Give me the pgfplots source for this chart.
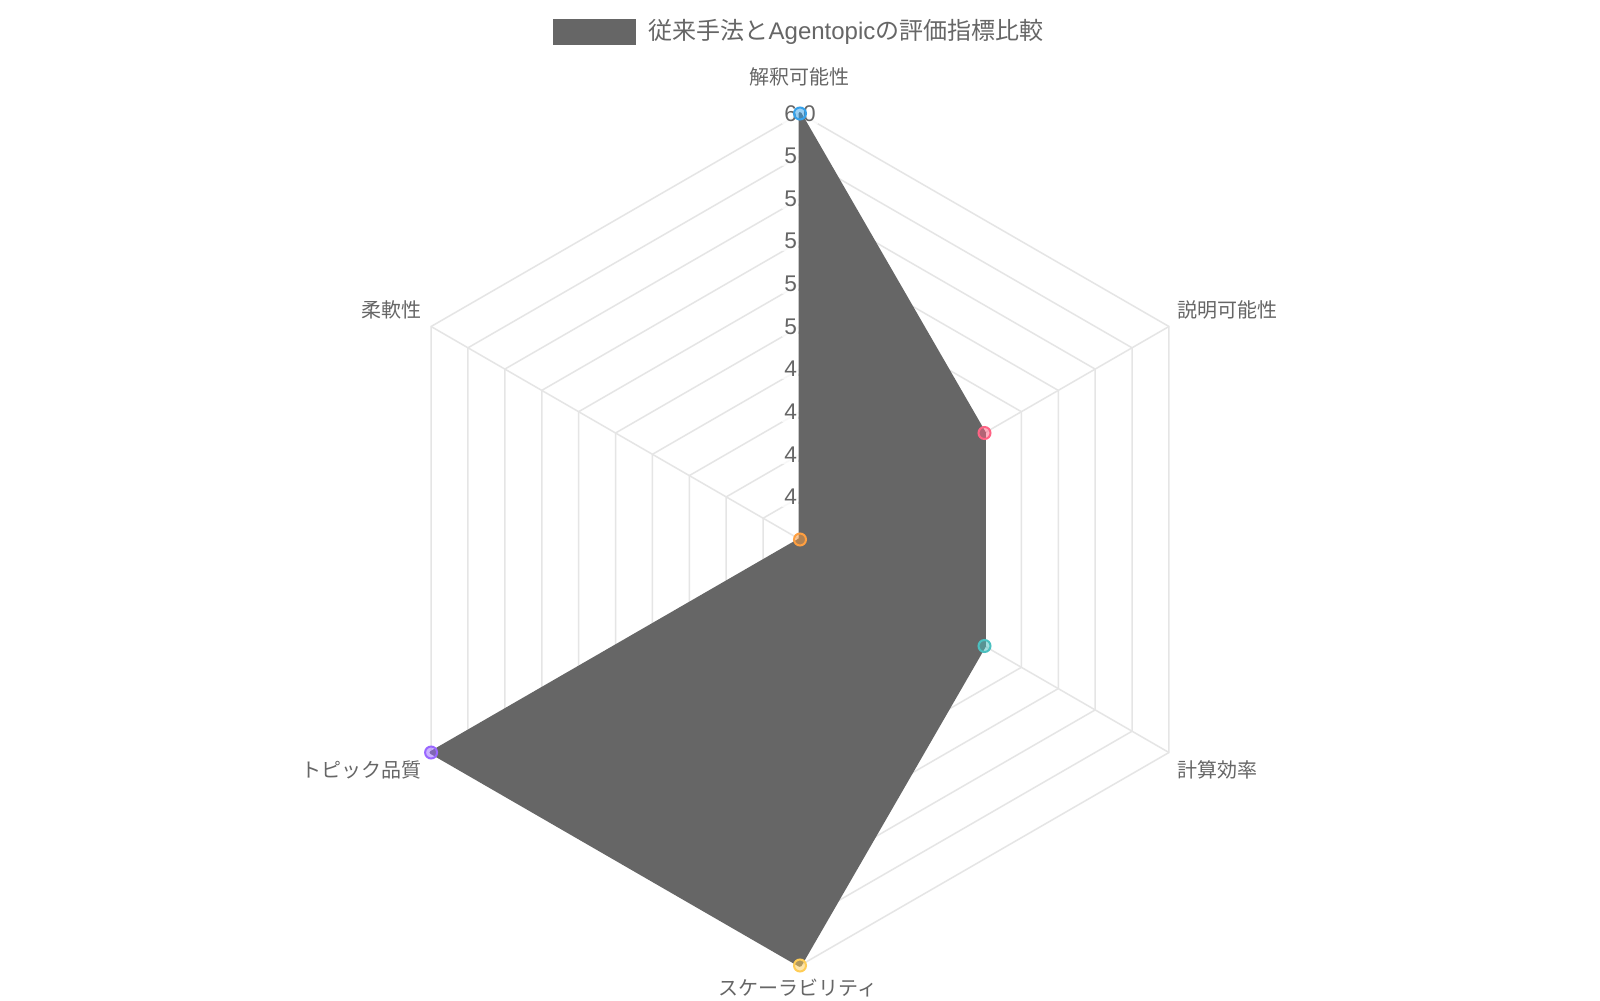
\documentclass[border=0pt]{standalone}
\usepackage{pgfplots}
\pgfplotsset{compat=1.18}
\usepackage{pgfplotstable}
\usepackage{fontspec}
\setmainfont{Liberation Sans}
\newfontfamily\jp{Noto Sans CJK JP}
\definecolor{txt}{HTML}{666666}
\definecolor{fillgray}{HTML}{666666}
\definecolor{gridc}{HTML}{E5E5E5}
\definecolor{cblue}{RGB}{54,162,235}
\definecolor{cpink}{RGB}{255,99,132}
\definecolor{cteal}{RGB}{75,192,192}
\definecolor{cyellow}{RGB}{255,205,86}
\definecolor{cpurple}{RGB}{153,102,255}
\definecolor{corange}{RGB}{255,159,64}
\tikzset{
  lab/.style={font=\fontsize{6}{7}\selectfont, text=txt, inner sep=0pt},
  leglab/.style={font=\fontsize{7.2}{8}\selectfont, text=txt, inner sep=0pt},
  ticklab/.style={font=\fontsize{6.8}{8}\selectfont, text=txt, fill=white, fill opacity=0.75, text opacity=1, inner sep=0.6pt},
}

\pgfplotstableread{
angle value cls
90 6.0 a
30 5.0 b
-30 5.0 c
-90 6.0 d
-150 6.0 e
150 4.0 f
}\radardata

\begin{document}
\begin{tikzpicture}
\begin{axis}[
  width=480pt, height=300pt, scale only axis, hide axis,
  xmin=-3.7559, xmax=3.7559, ymin=-2.1620, ymax=2.5329,
  clip=false,
]
\path[fill=white] (rel axis cs:0,0) rectangle (rel axis cs:1,1);
% grid rings
\pgfplotsinvokeforeach{0.2,0.4,0.6,0.8,1.0,1.2,1.4,1.6,1.8,2.0}{
  \draw[gridc, line width=0.45pt] (axis cs:0,#1) -- (axis cs:{0.866025*#1},{0.5*#1}) -- (axis cs:{0.866025*#1},{-0.5*#1}) -- (axis cs:0,{-#1}) -- (axis cs:{-0.866025*#1},{-0.5*#1}) -- (axis cs:{-0.866025*#1},{0.5*#1}) -- cycle;
}
% spokes
\draw[gridc, line width=0.45pt] (axis cs:0,0) -- (axis cs:0,2);
\draw[gridc, line width=0.45pt] (axis cs:0,0) -- (axis cs:1.73205,1);
\draw[gridc, line width=0.45pt] (axis cs:0,0) -- (axis cs:1.73205,-1);
\draw[gridc, line width=0.45pt] (axis cs:0,0) -- (axis cs:0,-2);
\draw[gridc, line width=0.45pt] (axis cs:0,0) -- (axis cs:-1.73205,-1);
\draw[gridc, line width=0.45pt] (axis cs:0,0) -- (axis cs:-1.73205,1);
% tick labels
\node[ticklab] at (axis cs:0,2.0) {6.0};
\node[ticklab] at (axis cs:0,1.8) {5.8};
\node[ticklab] at (axis cs:0,1.6) {5.6};
\node[ticklab] at (axis cs:0,1.4) {5.4};
\node[ticklab] at (axis cs:0,1.2) {5.2};
\node[ticklab] at (axis cs:0,1.0) {5.0};
\node[ticklab] at (axis cs:0,0.8) {4.8};
\node[ticklab] at (axis cs:0,0.6) {4.6};
\node[ticklab] at (axis cs:0,0.4) {4.4};
\node[ticklab] at (axis cs:0,0.2) {4.2};
% data area
\addplot[fill=fillgray, draw=fillgray, line width=0.9pt, line join=round, data cs=polar] table[x=angle, y expr=\thisrow{value}-4] {\radardata} -- cycle;
% points
\addplot[scatter, only marks, data cs=polar, scatter src=explicit symbolic, mark size=1.8pt, line width=0.6pt,
  scatter/classes={
    a={mark=*, draw=cblue, fill=cblue, fill opacity=0.5},
    b={mark=*, draw=cpink, fill=cpink, fill opacity=0.5},
    c={mark=*, draw=cteal, fill=cteal, fill opacity=0.5},
    d={mark=*, draw=cyellow, fill=cyellow, fill opacity=0.5},
    e={mark=*, draw=cpurple, fill=cpurple, fill opacity=0.5},
    f={mark=*, draw=corange, fill=corange, fill opacity=0.5}}]
  table[x=angle, y expr=\thisrow{value}-4, meta=cls] {\radardata};
% point labels
\node[lab] at (axis cs:-0.0047,2.1728) {\jp 解釈可能性};
\node[lab, anchor=west] at (axis cs:1.77,1.0775) {\jp 説明可能性};
\node[lab, anchor=west] at (axis cs:1.77,-1.0822) {\jp 計算効率};
\node[lab] at (axis cs:-0.0094,-2.1056) {\jp スケーラビリティ};
\node[lab, anchor=east] at (axis cs:-1.7746,-1.0822) {\jp トピック品質};
\node[lab, anchor=east] at (axis cs:-1.7746,1.0775) {\jp 柔軟性};
% legend
\fill[fillgray] (axis cs:-1.1596,2.4437) rectangle (axis cs:-0.77,2.3216);
\node[leglab, anchor=west] at (axis cs:-0.7136,2.3826) {{\jp 従来手法と}Agentopic{\jp の評価指標比較}};
\end{axis}
\end{tikzpicture}
\end{document}
